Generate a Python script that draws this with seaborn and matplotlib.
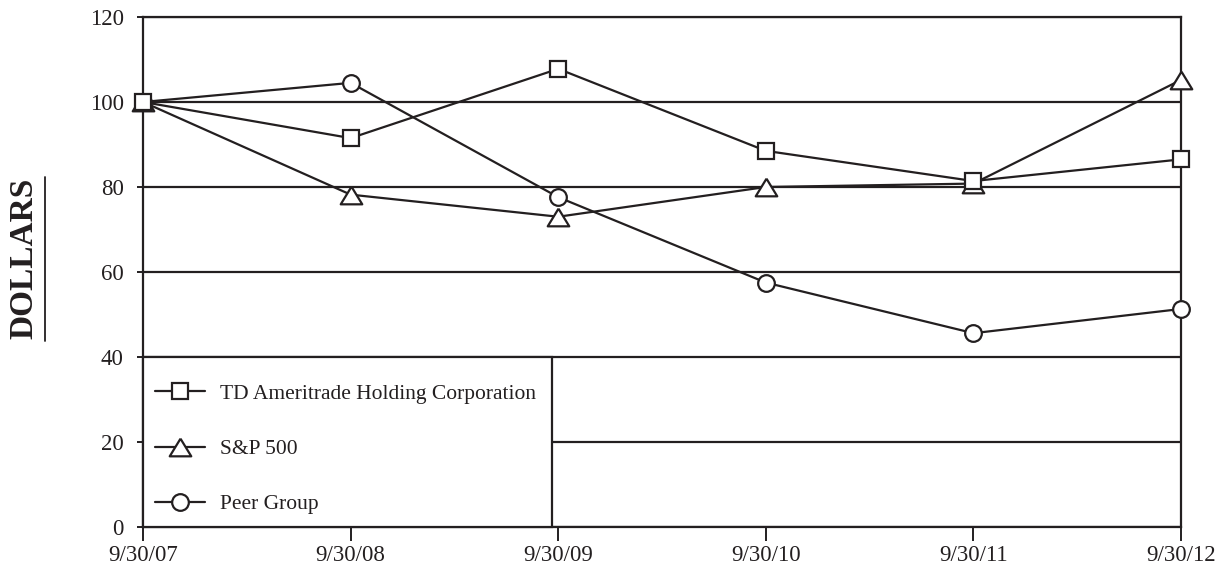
import matplotlib
matplotlib.use("Agg")
import matplotlib.pyplot as plt
from matplotlib.patches import Rectangle
from matplotlib.lines import Line2D
import numpy as np
import pandas as pd
import seaborn as sns

# Five-year cumulative total return, indexed to $100
dates = ["9/30/07", "9/30/08", "9/30/09", "9/30/10", "9/30/11", "9/30/12"]
td_ameritrade = [100, 91.5, 107.8, 88.5, 81.4, 86.5]
sp500 = [100, 78.2, 73.0, 80.0, 80.8, 105.2]
peer_group = [100, 104.5, 77.6, 57.5, 45.6, 51.3]
series_names = ["TD Ameritrade Holding Corporation", "S&P 500", "Peer Group"]
y_ticks = [0, 20, 40, 60, 80, 100, 120]

INK = "#231f20"

sns.set_theme(style="white")
plt.rcParams["font.family"] = ["Liberation Serif", "DejaVu Serif"]

fig = plt.figure(figsize=(12.29, 5.76), dpi=100)
ax = fig.add_axes([0.1164, 0.0851, 0.8446, 0.8854])

pos = np.arange(len(dates))
tri = [(0, 0.82), (-1, -0.82), (1, -0.82), (0, 0.82)]
styles = {
    series_names[0]: (td_ameritrade, "s", 11.3, 6),
    series_names[1]: (sp500, tri, 15.5, 5),
    series_names[2]: (peer_group, "o", 12.0, 4),
}

for name in series_names:
    vals, mk, ms, z = styles[name]
    df = pd.DataFrame({"pos": pos, "value": vals})
    sns.lineplot(
        data=df, x="pos", y="value", ax=ax, color=INK, lw=1.6,
        marker=mk, markersize=ms, markerfacecolor="white",
        markeredgecolor=INK, markeredgewidth=1.6,
        label=name, legend=False, clip_on=False, zorder=z,
    )

ax.set_xlim(0, len(dates) - 1)
ax.set_ylim(0, 120)
ax.set_xticks(pos)
ax.set_xticklabels(dates)
ax.set_yticks(y_ticks)
ax.set_xlabel("")
ax.set_ylabel("")

ax.grid(axis="y", color=INK, lw=1.6)
ax.grid(axis="x", visible=False)
ax.set_axisbelow(True)
for sp in ax.spines.values():
    sp.set_visible(True)
    sp.set_color(INK)
    sp.set_linewidth(1.6)
    sp.set_zorder(3)

ax.tick_params(axis="y", which="major", left=True, length=4, width=1.4,
               color=INK, labelsize=16.5, pad=10, labelcolor=INK)
ax.tick_params(axis="x", which="major", bottom=True, length=10, width=1.4,
               color=INK, labelsize=16.5, pad=3, labelcolor=INK)

# Boxed legend panel in the lower-left corner
ax.add_patch(Rectangle((0, 0), 0.394, 0.333, transform=ax.transAxes,
                       facecolor="white", edgecolor=INK, lw=1.6,
                       zorder=8, clip_on=False))
handles, labels = ax.get_legend_handles_labels()
leg = ax.legend(handles, labels, loc="upper left",
                bbox_to_anchor=(0.0116, 0.281), frameon=False,
                fontsize=15.5, handlelength=2.3, handletextpad=0.72,
                labelspacing=1.64, borderpad=0, borderaxespad=0)
leg.set_zorder(9)
for t in leg.get_texts():
    t.set_color(INK)

# Rotated, underlined axis title
fig.text(0.0195, 0.552, "DOLLARS", rotation=90, fontsize=24, fontweight="bold",
         ha="center", va="center", color=INK)
fig.add_artist(Line2D([0.0366, 0.0366], [0.408, 0.693], color=INK, lw=1.3))

fig.savefig("out.png", dpi=100)
